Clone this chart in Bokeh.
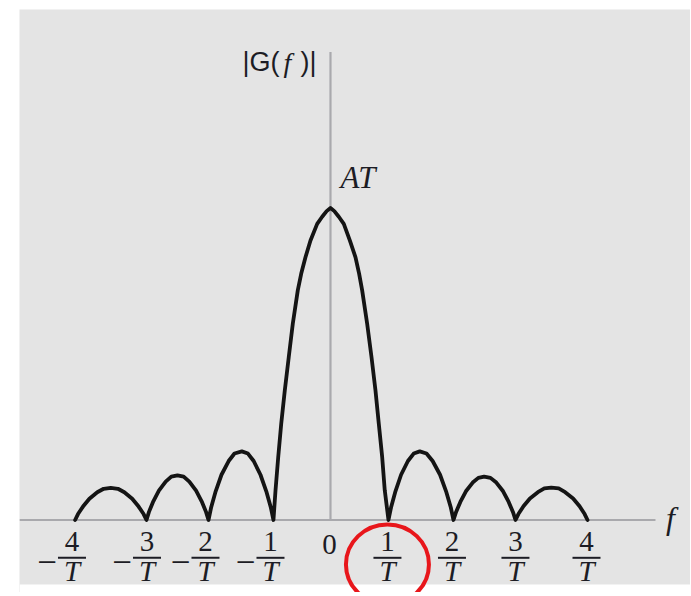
from bokeh.plotting import figure
from bokeh.models import Range1d, BoxAnnotation
from bokeh.core.properties import value
from bokeh.embed import file_html
from bokeh.resources import INLINE

# ---------------- data (f in units of 1/T, |G| in units of AT) ----------------
lobe_a_f = [-3.99, -3.945, -3.867, -3.767, -3.644, -3.544, -3.433, -3.321, -3.221, -3.098, -2.998, -2.920, -2.875]
lobe_a_g = [0.0, 0.019, 0.043, 0.068, 0.089, 0.100, 0.103, 0.100, 0.089, 0.068, 0.043, 0.019, 0.0]
lobe_b_f = [-2.836, -2.768, -2.681, -2.575, -2.487, -2.391, -2.294, -2.206, -2.100, -2.013, -1.945, -1.906]
lobe_b_g = [0.026, 0.060, 0.094, 0.123, 0.139, 0.143, 0.139, 0.123, 0.094, 0.060, 0.026, 0.0]
lobe_c_f = [-1.865, -1.794, -1.703, -1.591, -1.500, -1.385, -1.290, -1.200, -1.094, -1.003, -0.932, -0.891]
lobe_c_g = [0.040, 0.092, 0.145, 0.189, 0.213, 0.220, 0.213, 0.189, 0.145, 0.092, 0.040, 0.0]
main_f = [-0.859, -0.817, -0.770, -0.714, -0.652, -0.589, -0.511, -0.458, -0.391, -0.3125, -0.208, -0.13, -0.06, 0.0,
          0.06, 0.13, 0.208, 0.302, 0.391, 0.448, 0.495, 0.573, 0.641, 0.703, 0.755, 0.808, 0.848, 0.906]
main_g = [0.095, 0.201, 0.308, 0.415, 0.522, 0.629, 0.736, 0.789, 0.842, 0.896, 0.949, 0.972, 0.99, 1.0,
          0.99, 0.972, 0.949, 0.896, 0.842, 0.789, 0.736, 0.629, 0.522, 0.415, 0.308, 0.201, 0.095, 0.0]
lobe_d_f = [0.946, 1.015, 1.103, 1.210, 1.300, 1.395, 1.500, 1.596, 1.712, 1.806, 1.880, 1.922]
lobe_d_g = [0.040, 0.092, 0.145, 0.189, 0.213, 0.220, 0.213, 0.189, 0.145, 0.092, 0.040, 0.0]
lobe_e_f = [1.961, 2.029, 2.116, 2.222, 2.310, 2.400, 2.500, 2.591, 2.697, 2.784, 2.852, 2.891]
lobe_e_g = [0.025, 0.058, 0.092, 0.120, 0.135, 0.139, 0.135, 0.120, 0.092, 0.058, 0.025, 0.0]
lobe_f_f = [2.936, 3.015, 3.116, 3.240, 3.341, 3.450, 3.566, 3.667, 3.791, 3.892, 3.971, 4.016]
lobe_f_g = [0.019, 0.044, 0.069, 0.089, 0.101, 0.104, 0.101, 0.089, 0.069, 0.044, 0.019, 0.0]

tick_pos = [-4.039, -2.867, -1.953, -0.9375, 0.89, 1.898, 2.89, 4.0]
tick_num = ["4", "3", "2", "1", "1", "2", "3", "4"]
tick_sign = ["\u2212", "\u2212", "\u2212", "\u2212", "", "", "", ""]
tick_den = ["T"] * 8
zero_label = "0"
peak_label = "AT"
x_label = "f"
y_label_parts = ["|G(", "f", ")|"]
highlight_index = 4  # the 1/T label is circled

curve_f = lobe_a_f + lobe_b_f + lobe_c_f + main_f + lobe_d_f + lobe_e_f + lobe_f_f
curve_g = lobe_a_g + lobe_b_g + lobe_c_g + main_g + lobe_d_g + lobe_e_g + lobe_f_g

# ---------------- layout / style ----------------
INK = "#1c1c24"
AXIS = "#a9a9ad"
BG = "#e4e4e4"
SERIF = value("Liberation Serif")
SANS = value("Liberation Sans")

p = figure(width=690, height=592,
           x_range=Range1d(-4.859, 5.625), y_range=Range1d(-0.2324, 1.6362),
           output_backend="svg", toolbar_location=None,
           x_axis_location=None, y_axis_location=None,
           min_border_left=19, min_border_right=0, min_border_top=9, min_border_bottom=0,
           background_fill_color=BG, border_fill_color="white", outline_line_color=None)
p.grid.grid_line_color = None

# axes
p.segment(x0=[-4.859], y0=[0], x1=[5.078], y1=[0], line_color=AXIS, line_width=2)
p.segment(x0=[0], y0=[0], x1=[0], y1=[1.5], line_color=AXIS, line_width=2.2)

# curve
p.line(curve_f, curve_g, line_color="#141414", line_width=3.8, line_join="round", line_cap="round")

n = len(tick_pos)
# tick labels (fractions)
p.text(x=tick_pos, y=[-0.0689] * n, text=tick_num, text_font=SERIF, text_font_size="29px",
       text_align="center", text_baseline="middle", text_color=INK)
p.scatter(x=tick_pos, y=[-0.1212] * n, marker="dash", size=28, line_width=2, line_color=INK)
p.text(x=tick_pos, y=[-0.165] * n, text=tick_den, text_font=SERIF, text_font_style="italic",
       text_font_size="29px", text_align="center", text_baseline="middle", text_color=INK)
p.text(x=tick_pos, y=[-0.1343] * n, text=tick_sign, text_font=SERIF, text_font_size="35px",
       text_align="right", text_baseline="middle", x_offset=-15, text_color=INK)
p.text(x=[-0.016], y=[-0.0785], text=[zero_label], text_font=SERIF, text_font_size="29px",
       text_align="center", text_baseline="middle", text_color=INK)

# bottom white strip (outside the gray panel)
p.add_layout(BoxAnnotation(top=-0.2067, fill_color="white", fill_alpha=1.0, line_color=None, level="annotation"))

# peak label
p.text(x=[0.156], y=[1.0962], text=[peak_label], text_font=SERIF, text_font_style="italic",
       text_font_size="31px", text_align="left", text_baseline="middle", text_color=INK)

# axis labels
p.text(x=[5.3125], y=[0.005], text=[x_label], text_font=SERIF, text_font_style="italic",
       text_font_size="32px", text_align="center", text_baseline="middle", text_color=INK)
p.text(x=[-0.219], y=[1.467], text=[y_label_parts[0]], text_font=SANS, text_font_size="27px",
       text_align="right", text_baseline="middle", x_offset=-37, text_color=INK)
p.text(x=[-0.219], y=[1.467], text=[y_label_parts[1]], text_font=SERIF, text_font_style="italic",
       text_font_size="28px", text_align="center", text_baseline="middle", x_offset=-29, text_color=INK)
p.text(x=[-0.219], y=[1.467], text=[y_label_parts[2]], text_font=SANS, text_font_size="27px",
       text_align="right", text_baseline="middle", x_offset=0, text_color=INK)

# red highlight circle around 1/T
p.ellipse(x=[tick_pos[highlight_index]], y=[-0.1423], width=83, height=80,
          width_units="screen", height_units="screen",
          fill_color=None, line_color="#e8161b", line_width=4, level="overlay")

open("out.html", "w").write(file_html(p, INLINE))
